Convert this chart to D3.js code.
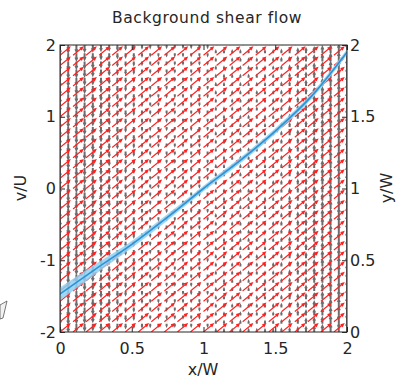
<!DOCTYPE html>
<html>
<head>
<meta charset="utf-8">
<script src="https://cdn.jsdelivr.net/npm/d3@7"></script>
<style>
  body { margin: 0; background: #fff; }
  svg { display: block; font-family: "DejaVu Sans", sans-serif; }
</style>
</head>
<body>
<div id="chart"></div>
<script>
// axis ticks
const xTicks = [0, 0.5, 1, 1.5, 2];
const vTicks = [-2, -1, 0, 1, 2];
const yTicks = [0, 0.5, 1, 1.5, 2];

// velocity profile v/U vs x/W (blue line) and its shaded spread
const profX = [0, 0.25, 0.5, 0.75, 1, 1.25, 1.5, 1.75, 2];
const profV = [-1.47, -1.12, -0.78, -0.40, 0.0, 0.38, 0.80, 1.28, 1.9];
const profSpread = [0.09, 0.07, 0.05, 0.045, 0.04, 0.04, 0.04, 0.04, 0.04];

// grey quiver: vertical component per column (x/W), 36 columns x 36 rows
const greyV = [-1.0, -0.92, -0.85, -0.78, -0.71, -0.64, -0.57, -0.50, -0.44, -0.38,
  -0.32, -0.26, -0.21, -0.16, -0.12, -0.09, -0.06, -0.04, -0.02, 0.0,
  0.02, 0.04, 0.07, 0.10, 0.14, 0.19, 0.25, 0.31, 0.38, 0.46,
  0.55, 0.65, 0.76, 0.88, 1.0, 1.12];
const greyRows = 36;

// red quiver: uniform vector on a 23 x 29 grid
const redCols = 23, redRows = 29;
const redU = 0.068, redW = 0.056;

const W = 409, H = 385;
const svg = d3.select("#chart").append("svg").attr("width", W).attr("height", H);

const x = d3.scaleLinear().domain([0, 2]).range([60, 347]);
const yL = d3.scaleLinear().domain([-2, 2]).range([332, 45]);
const yR = d3.scaleLinear().domain([0, 2]).range([332, 45]);

svg.append("defs").append("clipPath").attr("id", "clip")
  .append("rect").attr("x", 60).attr("y", 45).attr("width", 287).attr("height", 287);

const plot = svg.append("g").attr("clip-path", "url(#clip)");

function arrow(g, x0, y0, x1, y1, color, sw, head) {
  const dx = x1 - x0, dy = y1 - y0;
  const len = Math.hypot(dx, dy);
  if (len < 0.01) return;
  const ux = dx / len, uy = dy / len;
  const h = Math.min(head, len * 0.4);
  const p = `M${x0},${y0}L${x1},${y1}` +
    `M${x1 - h * ux + h * 0.45 * uy},${y1 - h * uy - h * 0.45 * ux}L${x1},${y1}` +
    `L${x1 - h * ux - h * 0.45 * uy},${y1 - h * uy + h * 0.45 * ux}`;
  g.append("path").attr("d", p).attr("fill", "none").attr("stroke", color)
    .attr("stroke-width", sw);
}

// grey quiver (background flow)
const gGrey = plot.append("g");
const gScale = 7.5; // px per unit
greyV.forEach((v, i) => {
  const xv = i * 2 / (greyV.length - 1);
  for (let j = 0; j < greyRows; j++) {
    const yv = j * 2 / (greyRows - 1);
    const px = x(xv), py = yR(yv);
    let l = v * gScale;
    if (Math.abs(l) < 1.8) l = (v < 0 ? -1 : 1) * 1.8;
    arrow(gGrey, px, py, px, py - l, "#6c6c6c", 2, 2.2);
  }
});

// red quiver
const gRed = plot.append("g");
for (let i = 0; i < redCols; i++) {
  const xv = i * 2 / (redCols - 1);
  for (let j = 0; j < redRows; j++) {
    const yv = j * 2 / (redRows - 1);
    arrow(gRed, x(xv), yR(yv), x(xv + redU), yR(yv + redW), "#ff2020", 1.1, 3);
  }
}

// blue profile with shaded band
const prof = profX.map((d, i) => ({ x: d, v: profV[i], s: profSpread[i] }));
plot.append("path").datum(prof)
  .attr("d", d3.area().curve(d3.curveMonotoneX)
    .x(d => x(d.x)).y0(d => yL(d.v - d.s)).y1(d => yL(d.v + d.s)))
  .attr("fill", "#8fd0f2").attr("opacity", 0.85);
plot.append("path").datum(prof)
  .attr("d", d3.line().curve(d3.curveMonotoneX).x(d => x(d.x)).y(d => yL(d.v)))
  .attr("fill", "none").attr("stroke", "#2a93d5").attr("stroke-width", 1.6);

// axes
const fmt = d => String(d);
const axB = svg.append("g").attr("transform", "translate(0,332)")
  .call(d3.axisBottom(x).tickValues(xTicks).tickFormat(fmt).tickSizeInner(-5).tickSizeOuter(0).tickPadding(11));
const axT = svg.append("g").attr("transform", "translate(0,45)")
  .call(d3.axisTop(x).tickValues(xTicks).tickFormat("").tickSizeInner(-5).tickSizeOuter(0));
const axL = svg.append("g").attr("transform", "translate(60,0)")
  .call(d3.axisLeft(yL).tickValues(vTicks).tickFormat(fmt).tickSizeInner(-5).tickSizeOuter(0).tickPadding(4));
const axR = svg.append("g").attr("transform", "translate(347,0)")
  .call(d3.axisRight(yR).tickValues(yTicks).tickFormat(fmt).tickSizeInner(-5).tickSizeOuter(0).tickPadding(3));
[axB, axT, axL, axR].forEach(a => {
  a.select(".domain").remove();
  a.selectAll("line").attr("stroke", "#262626");
  a.selectAll("text").attr("font-size", 16).attr("fill", "#262626")
    .attr("font-family", "'DejaVu Sans', sans-serif");
});
svg.append("rect").attr("x", 60).attr("y", 45).attr("width", 287).attr("height", 287)
  .attr("fill", "none").attr("stroke", "#262626").attr("stroke-width", 1);

// labels
svg.append("text").attr("x", 207).attr("y", 23).attr("text-anchor", "middle")
  .attr("font-size", 15.5).attr("letter-spacing", 0.6).attr("fill", "#262626").text("Background shear flow");
svg.append("text").attr("x", 203).attr("y", 375).attr("text-anchor", "middle")
  .attr("font-size", 16).attr("fill", "#262626").text("x/W");
svg.append("text").attr("transform", "translate(26,188) rotate(-90)").attr("text-anchor", "middle")
  .attr("font-size", 16).attr("fill", "#262626").text("v/U");
svg.append("text").attr("transform", "translate(392,188) rotate(-90)").attr("text-anchor", "middle")
  .attr("font-size", 16).attr("fill", "#262626").text("y/W");

// small stray graphic at the left edge
svg.append("path").attr("d", "M0,305L7,301L3,318L0,319Z")
  .attr("fill", "#f2f2f2").attr("stroke", "#555").attr("stroke-width", 0.8);
</script>
</body>
</html>
